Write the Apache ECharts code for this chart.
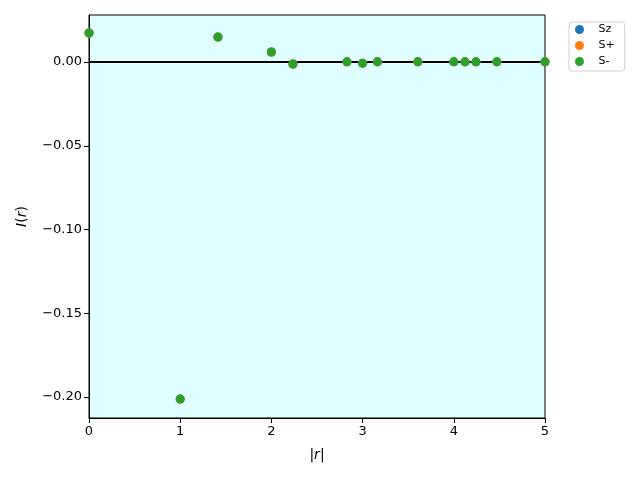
<!DOCTYPE html>
<html>
<head>
<meta charset="utf-8">
<script src="https://cdn.jsdelivr.net/npm/echarts@6/dist/echarts.min.js"></script>
<style>html,body{margin:0;padding:0;background:#fff}#c{width:640px;height:480px}</style>
</head>
<body>
<div id="c"></div>
<script>
var distances = [0, 1, 1.41421, 2, 2.23607, 2.82843, 3, 3.16228, 3.60555, 4, 4.12311, 4.24264, 4.47214, 5];
var szValues = [0.0173, -0.2012, 0.0149, 0.0060, -0.0012, 0.0001, -0.0007, 0.0001, 0.0001, 0.0001, 0.0001, 0.0001, 0.0001, 0.0001];
var spValues = [0.0173, -0.2012, 0.0149, 0.0060, -0.0012, 0.0001, -0.0007, 0.0001, 0.0001, 0.0001, 0.0001, 0.0001, 0.0001, 0.0001];
var smValues = [0.0173, -0.2012, 0.0149, 0.0060, -0.0012, 0.0001, -0.0007, 0.0001, 0.0001, 0.0001, 0.0001, 0.0001, 0.0001, 0.0001];
var seriesNames = ['Sz', 'S+', 'S-'];
var xTicks = [0, 1, 2, 3, 4, 5];
var yTicks = [-0.20, -0.15, -0.10, -0.05, 0.00];
var zeroLine = [[0, 0], [5, 0]];

function pairs(xs, ys) { return xs.map(function (x, i) { return [x, ys[i]]; }); }
function fmtY(v) {
  var s = Math.abs(v).toFixed(2);
  return (v < -1e-9 ? '\u2212' : '') + s;
}

var chart = echarts.init(document.getElementById('c'), null, { renderer: 'canvas' });
var font = 'DejaVu Sans';
var colors = ['#1f77b4', '#ff7f0e', '#2ca02c'];
var vals = [szValues, spValues, smValues];

var series = [{
  type: 'line',
  data: zeroLine,
  symbol: 'none',
  silent: true,
  lineStyle: { color: '#000', width: 2 },
  z: 1
}];
seriesNames.forEach(function (n, i) {
  series.push({
    name: n,
    type: 'scatter',
    data: pairs(distances, vals[i]),
    symbol: 'circle',
    symbolSize: 9,
    itemStyle: { color: colors[i], opacity: 1 },
    z: 2 + i
  });
});

chart.setOption({
  animation: false,
  textStyle: { fontFamily: font },
  grid: { left: 89, right: 95, top: 15, bottom: 62, show: true, backgroundColor: '#e0ffff', borderColor: '#000', borderWidth: 1 },
  legend: {
    data: seriesNames,
    orient: 'vertical',
    left: 569,
    top: 22,
    padding: [2, 10, 4, 6],
    itemWidth: 20,
    itemHeight: 9,
    itemGap: 5,
    icon: 'circle',
    borderColor: '#d0d0d0',
    borderWidth: 1,
    borderRadius: 3,
    backgroundColor: '#fff',
    textStyle: { fontFamily: font, fontSize: 11, color: '#000', padding: [0, 0, 0, 4] }
  },
  xAxis: {
    type: 'value',
    min: 0, max: 5, interval: 1,
    name: '{a||}{b|r}{a||}',
    nameLocation: 'middle',
    nameGap: 30,
    nameTextStyle: {
      rich: {
        a: { fontFamily: font, fontSize: 14, color: '#000' },
        b: { fontFamily: font, fontSize: 14, fontStyle: 'italic', color: '#000' }
      }
    },
    axisLine: { onZero: false, lineStyle: { color: '#000', width: 1 } },
    axisTick: { show: true, length: 5, inside: false, lineStyle: { color: '#000' } },
    axisLabel: { color: '#000', fontSize: 13, margin: 7, fontFamily: font },
    splitLine: { show: false }
  },
  yAxis: {
    type: 'value',
    min: -0.2125, max: 0.02806,
    name: '{b|I}{a|(}{b|r}{a|)}',
    nameLocation: 'middle',
    nameGap: 60,
    nameRotate: 90,
    nameTextStyle: {
      rich: {
        a: { fontFamily: font, fontSize: 14, color: '#000' },
        b: { fontFamily: font, fontSize: 14, fontStyle: 'italic', color: '#000' }
      }
    },
    axisLine: { show: true, onZero: false, lineStyle: { color: '#000', width: 1 } },
    axisTick: { show: true, length: 5, inside: false, customValues: yTicks, lineStyle: { color: '#000' } },
    axisLabel: { color: '#000', fontSize: 13, margin: 7, fontFamily: font, customValues: yTicks, formatter: fmtY },
    splitLine: { show: false }
  },
  series: series
});
</script>
</body>
</html>
